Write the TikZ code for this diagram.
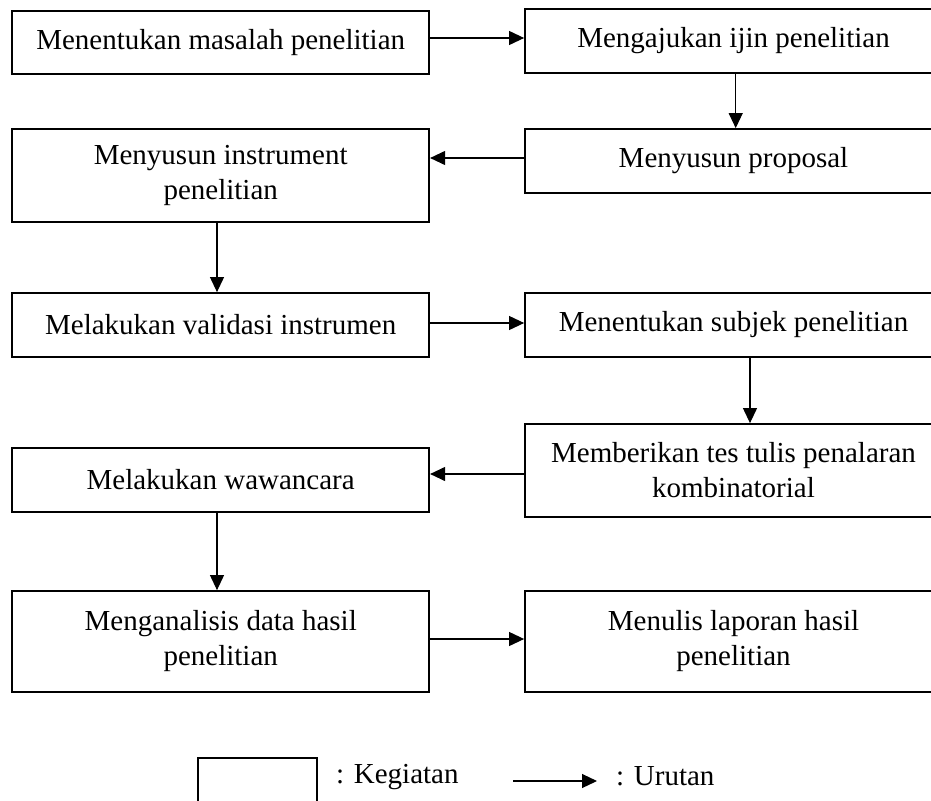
\documentclass[tikz,border=0pt]{standalone}
\usepackage{fontspec}
\setmainfont{Liberation Serif}
\usetikzlibrary{arrows.meta}
\tikzset{
  kotak/.style={draw, line width=1.8pt, minimum width=417pt, inner sep=0pt, align=center, font=\fontsize{29}{35}\selectfont},
  panah/.style={line width=1.1pt, -{Triangle[length=15pt,width=14pt]}},
  teks/.style={inner sep=0pt, anchor=base west, font=\fontsize{29}{35}\selectfont}
}
\begin{document}
\begin{tikzpicture}[x=1pt,y=-1pt]
\useasboundingbox (0,0) rectangle (931,800);
\clip (0,0) rectangle (931,800);
\node[kotak, minimum height=63pt]  (b1)  at (220.7,42.5) {Menentukan masalah penelitian};
\node[kotak, minimum height=64pt]  (b2)  at (733.5,41)   {Mengajukan ijin penelitian};
\node[kotak, minimum height=64pt]  (b3)  at (733.5,161)  {Menyusun proposal};
\node[kotak, minimum height=93pt]  (b4)  at (220.7,175.5) {Menyusun instrument\\penelitian};
\node[kotak, minimum height=64pt]  (b5)  at (220.7,325)  {Melakukan validasi instrumen};
\node[kotak, minimum height=64pt]  (b6)  at (733.5,325)  {Menentukan subjek penelitian};
\node[kotak, minimum height=93pt]  (b7)  at (733.5,470.5) {Memberikan tes tulis penalaran\\kombinatorial};
\node[kotak, minimum height=64pt]  (b8)  at (220.7,480)  {Melakukan wawancara};
\node[kotak, minimum height=101pt] (b9)  at (220.7,641.5) {Menganalisis data hasil\\penelitian};
\node[kotak, minimum height=101pt] (b10) at (733.5,641.5) {Menulis laporan hasil\\penelitian};

\draw[panah] ([yshift=4.5pt]b1.east) -- ([yshift=4.5pt]b1.east -| b2.west);
\draw[panah] ([xshift=2.2pt]b2.south) -- ([xshift=2.2pt]b2.south |- b3.north);
\draw[panah] ([yshift=3pt]b3.west) -- ([yshift=3pt]b3.west -| b4.east);
\draw[panah] ([xshift=-3.7pt]b4.south) -- ([xshift=-3.7pt]b4.south |- b5.north);
\draw[panah] ([yshift=2pt]b5.east) -- ([yshift=2pt]b5.east -| b6.west);
\draw[panah] ([xshift=16.5pt]b6.south) -- ([xshift=16.5pt]b6.south |- b7.north);
\draw[panah] ([yshift=-3.5pt]b7.west) -- ([yshift=-3.5pt]b7.west -| b8.east);
\draw[panah] ([xshift=-3.7pt]b8.south) -- ([xshift=-3.7pt]b8.south |- b9.north);
\draw[panah] ([yshift=2.5pt]b9.east) -- ([yshift=2.5pt]b9.east -| b10.west);

% legend
\node[draw, line width=1.8pt, minimum width=119pt, minimum height=72pt, inner sep=0pt] (lk) at (257.5,794) {};
\node[teks] (lkt) at (336,783) {: Kegiatan};
\coordinate (la) at (513,781);
\coordinate (lb) at (597,781);
\draw[panah] (la) -- (lb);
\node[teks] (lut) at (616,785) {: Urutan};
\end{tikzpicture}
\end{document}
